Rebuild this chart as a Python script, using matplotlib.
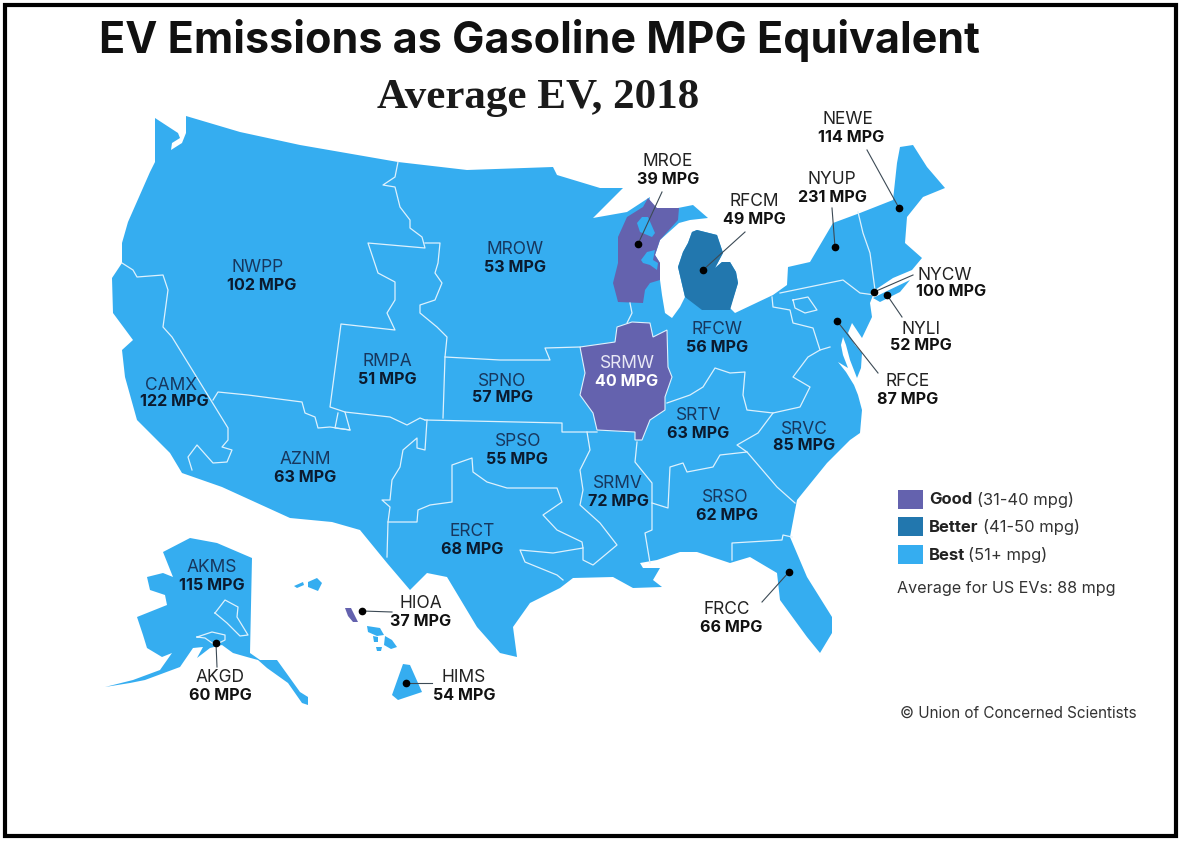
import matplotlib
matplotlib.use("Agg")
import matplotlib.pyplot as plt
from matplotlib.patches import Polygon, Rectangle

regions = ["NEWE", "NYUP", "MROE", "RFCM", "NYCW", "NYLI", "RFCE", "RFCW", "SRMW", "MROW", "NWPP", "RMPA", "SPNO",
           "CAMX", "AZNM", "SPSO", "SRTV", "SRVC", "SRMV", "SRSO", "ERCT", "FRCC", "HIOA", "AKMS", "AKGD", "HIMS"]
mpg = [114, 231, 39, 49, 100, 52, 87, 56, 40, 53, 102, 51, 57,
       122, 63, 55, 63, 85, 72, 62, 68, 66, 37, 115, 60, 54]

legend_names = ["Good", "Better", "Best"]
legend_ranges = ["(31-40 mpg)", "(41-50 mpg)", "(51+ mpg)"]
us_average = 88

GOOD = "#6462AE"
BETTER = "#2277AE"
BEST = "#35ADF0"
legend_colors = [GOOD, BETTER, BEST]

# label centres in picture pixels: name x, name y, value x, value y
label_pos = {
    "NEWE": (848, 120, 851, 138), "NYUP": (832, 180, 832, 198), "MROE": (668, 161, 668, 179),
    "RFCM": (754, 201, 754, 219), "NYCW": (945, 275, 951, 291), "NYLI": (921, 329, 921, 346),
    "RFCE": (908, 382, 908, 400), "RFCW": (717, 329, 717, 347), "SRMW": (627, 364, 627, 382),
    "MROW": (515, 249, 515, 267), "NWPP": (258, 268, 262, 286), "RMPA": (387, 361, 387, 379),
    "SPNO": (502, 381, 502, 398), "CAMX": (171, 385, 174, 402), "AZNM": (305, 460, 305, 478),
    "SPSO": (518, 442, 517, 459), "SRTV": (699, 416, 698, 433), "SRVC": (804, 429, 804, 446),
    "SRMV": (618, 484, 618, 501), "SRSO": (725, 498, 727, 515), "ERCT": (472, 532, 472, 550),
    "FRCC": (727, 609, 731, 627), "HIOA": (421, 604, 421, 622), "AKMS": (212, 567, 212, 585),
    "AKGD": (220, 678, 220, 695), "HIMS": (464, 677, 464, 695),
}

# dot, then the far end of the leader line
leaders = {
    "MROE": ((638, 244), (662, 192)), "RFCM": ((703, 270), (745, 232)), "NYUP": ((835, 247), (832, 208)),
    "NEWE": ((899, 208), (867, 150)), "NYCW": ((874, 292), (913, 275)), "NYLI": ((887, 295), (902, 317)),
    "RFCE": ((837, 321), (878, 373)), "FRCC": ((789, 572), (762, 602)), "HIOA": ((362, 611), (392, 612)),
    "AKGD": ((216, 643), (217, 667)), "HIMS": ((406, 683), (432, 683)),
}

# map outlines
mainland = [(155, 118), (178, 133), (180, 138), (172, 143), (171, 150), (182, 143), (186, 133), (186, 116), (240, 132),
            (300, 145), (398, 162), (467, 170), (553, 167), (557, 175), (600, 188), (623, 188), (593, 218), (627, 212),
            (650, 197), (648, 208), (678, 208), (693, 205), (708, 218), (690, 220), (679, 223), (660, 240), (655, 255),
            (660, 263), (660, 280), (662, 295), (665, 313), (672, 318), (680, 307), (685, 297), (678, 267), (683, 252),
            (688, 243), (692, 232), (697, 230), (717, 235), (723, 253), (715, 268), (722, 262), (730, 262), (736, 272),
            (738, 283), (730, 308), (735, 313), (773, 295), (787, 285), (788, 267), (810, 262), (823, 240), (833, 223),
            (860, 213), (893, 200), (897, 163), (900, 147), (913, 145), (927, 167), (945, 188), (923, 197), (907, 217),
            (905, 243), (922, 258), (912, 270), (893, 278), (875, 290), (870, 303), (872, 317), (862, 338), (852, 323),
            (848, 333), (855, 345), (862, 353), (861, 368), (857, 378), (850, 360), (846, 345), (843, 337), (841, 345),
            (843, 355), (848, 368), (838, 362), (846, 372), (854, 385), (858, 395), (862, 410), (860, 433), (850, 440),
            (827, 463), (797, 500), (790, 537), (807, 577), (832, 617), (832, 633), (820, 653), (807, 637), (780, 600),
            (777, 573), (750, 557), (730, 563), (697, 552), (680, 552), (657, 560), (640, 563), (643, 568), (660, 568),
            (653, 580), (662, 587), (633, 588), (613, 577), (573, 578), (560, 588), (530, 603), (513, 627), (517, 657),
            (500, 653), (477, 627), (447, 577), (427, 573), (410, 590), (387, 563), (360, 530), (332, 522), (290, 518),
            (222, 487), (182, 473), (170, 453), (137, 420), (125, 377), (122, 350), (133, 340), (113, 313), (112, 278),
            (122, 263), (122, 243), (128, 222), (150, 172), (155, 162)]
long_island = [(873, 298), (885, 292), (910, 280), (900, 292), (880, 302)]
wisconsin = [(627, 217), (618, 237), (618, 263), (613, 283), (618, 302), (643, 303), (645, 290), (650, 283), (660, 280),
             (660, 263), (655, 255), (660, 240), (678, 220), (679, 208), (657, 208), (648, 198), (643, 207)]
green_bay = [(637, 223), (642, 217), (648, 217), (655, 233), (652, 237), (640, 232)]
door_bay = [(641, 260), (647, 252), (655, 250), (653, 260), (658, 263), (657, 270), (650, 265), (643, 263)]
illinois = [(580, 347), (615, 342), (617, 327), (632, 322), (650, 323), (653, 337), (667, 330), (668, 367), (672, 377),
            (665, 397), (665, 410), (650, 420), (642, 440), (635, 440), (635, 432), (597, 430), (593, 413), (580, 395),
            (585, 373)]
michigan = [(685, 297), (678, 267), (683, 252), (688, 243), (692, 232), (697, 230), (717, 235), (723, 253), (715, 268),
            (722, 262), (730, 262), (736, 272), (738, 283), (730, 310), (702, 310)]
alaska = [(163, 552), (190, 538), (217, 543), (252, 558), (250, 653), (260, 660), (277, 660), (300, 692), (308, 697),
          (308, 705), (302, 703), (288, 683), (267, 668), (258, 660), (247, 657), (233, 653), (222, 645), (210, 648),
          (197, 658), (203, 647), (193, 648), (180, 667), (145, 680), (130, 683), (105, 687), (133, 680), (160, 670),
          (172, 653), (162, 657), (147, 648), (143, 635), (137, 617), (167, 605), (165, 595), (150, 590), (147, 577),
          (163, 573), (173, 577)]
hi_islands = [[(294, 586), (303, 582), (304, 585), (297, 588)],
              [(308, 582), (317, 578), (322, 583), (318, 591), (308, 587)],
              [(367, 626), (380, 628), (384, 635), (377, 636), (368, 632)],
              [(373, 636), (378, 637), (378, 642), (374, 642)],
              [(385, 636), (392, 640), (397, 647), (391, 649), (384, 645)],
              [(376, 647), (382, 647), (381, 651), (377, 651)]]
hioa_island = [(345, 608), (351, 608), (358, 622), (353, 622), (348, 616)]
hims_island = [(403, 664), (410, 665), (422, 692), (398, 700), (392, 695)]

# white boundaries between regions
borders = [
    [(398, 162), (395, 177), (383, 185), (395, 187), (400, 207), (410, 220), (410, 228), (422, 237), (425, 248), (368, 243),
     (378, 273), (395, 282), (395, 300), (387, 313), (395, 330), (341, 324), (330, 407), (345, 412), (350, 430), (335, 428),
     (338, 413)],
    [(425, 243), (440, 243), (438, 263), (435, 273), (442, 283), (435, 300), (420, 305), (420, 313), (437, 327), (447, 337),
     (445, 357), (443, 418)],
    [(445, 357), (500, 360), (550, 360), (545, 348), (580, 347)],
    [(425, 420), (562, 423), (562, 432), (597, 432)],
    [(345, 412), (390, 417), (407, 425), (420, 418), (425, 420)],
    [(427, 420), (425, 450), (417, 448), (417, 438), (403, 450), (400, 467), (392, 480), (390, 500), (382, 500), (390, 507),
     (388, 522), (387, 557)],
    [(388, 522), (417, 522), (418, 510), (430, 505), (452, 502), (452, 465), (472, 458), (473, 472), (487, 482), (507, 488),
     (557, 488), (562, 502), (543, 515), (557, 530), (582, 542), (583, 548), (553, 553), (520, 550), (525, 562), (557, 575),
     (563, 580)],
    [(587, 432), (590, 450), (580, 470), (583, 490), (580, 505), (600, 523), (617, 545), (593, 565), (583, 560), (583, 548)],
    [(637, 442), (635, 462), (652, 483), (652, 530), (645, 533), (650, 563)],
    [(652, 503), (668, 508), (670, 467), (683, 463), (687, 472), (713, 467), (720, 455), (747, 452), (737, 445), (758, 433),
     (773, 413)],
    [(747, 452), (777, 487), (795, 503)],
    [(732, 560), (732, 543), (782, 540), (783, 535), (792, 537)],
    [(667, 403), (690, 395), (703, 387), (715, 368), (730, 373), (745, 372), (743, 395), (747, 410), (773, 413), (800, 407),
     (810, 387), (793, 377), (808, 357), (820, 350), (830, 347)],
    [(772, 297), (773, 307), (790, 310), (793, 323), (813, 328), (820, 350)],
    [(793, 300), (808, 297), (817, 310), (805, 313), (795, 308), (793, 300)],
    [(780, 293), (843, 280), (860, 293), (875, 295)],
    [(858, 212), (863, 233), (870, 253), (875, 290)],
    [(630, 303), (632, 313), (627, 323)],
    [(122, 263), (133, 270), (137, 277), (163, 275), (168, 290), (163, 327), (172, 337), (228, 428), (228, 440), (222, 447),
     (232, 450), (227, 462), (213, 463), (197, 445), (188, 457), (192, 470)],
    [(213, 400), (218, 392), (248, 395), (302, 402), (305, 413), (315, 417), (318, 428), (330, 427), (350, 430)],
    [(215, 613), (225, 600), (238, 607), (237, 617), (248, 635), (240, 636), (227, 623), (215, 613)],
    [(197, 637), (212, 632), (225, 635), (225, 640), (215, 645), (205, 638), (197, 637)],
]

plt.rcParams["font.family"] = ["Inter", "DejaVu Sans"]

fig = plt.figure(figsize=(11.84, 8.42), dpi=100)
ax = fig.add_axes([0, 0, 1, 1])
ax.set_xlim(0, 1184)
ax.set_ylim(842, 0)
ax.axis("off")

ax.add_patch(Rectangle((5, 5), 1171, 831, fill=False, ec="black", lw=3))


def color_for(value):
    if value <= 40:
        return GOOD
    if value <= 50:
        return BETTER
    return BEST


value_of = dict(zip(regions, mpg))

ax.add_patch(Polygon(mainland, fc=BEST, ec="none"))
ax.add_patch(Polygon(long_island, fc=BEST, ec="none"))
ax.add_patch(Polygon(wisconsin, fc=color_for(value_of["MROE"]), ec="none"))
ax.add_patch(Polygon(green_bay, fc=BEST, ec="none"))
ax.add_patch(Polygon(door_bay, fc=BEST, ec="none"))
ax.add_patch(Polygon(illinois, fc=color_for(value_of["SRMW"]), ec="#DDF1FD", lw=0.8))
ax.add_patch(Polygon(michigan, fc=color_for(value_of["RFCM"]), ec="none"))
ax.add_patch(Polygon(alaska, fc=BEST, ec="none"))
for isl in hi_islands:
    ax.add_patch(Polygon(isl, fc=BEST, ec="none"))
ax.add_patch(Polygon(hioa_island, fc=color_for(value_of["HIOA"]), ec="none"))
ax.add_patch(Polygon(hims_island, fc=color_for(value_of["HIMS"]), ec="none"))

for line in borders:
    ax.plot([p[0] for p in line], [p[1] for p in line], color="#DDF1FD", lw=0.9, solid_joinstyle="round")

for name, (dot, end) in leaders.items():
    ax.plot([dot[0], end[0]], [dot[1], end[1]], color="#3c4a55", lw=0.8)
    ax.plot(dot[0], dot[1], "o", color="black", ms=4.5)

inside = ["RFCW", "MROW", "NWPP", "RMPA", "SPNO", "CAMX", "AZNM", "SPSO", "SRTV", "SRVC", "SRMV", "SRSO", "ERCT", "AKMS"]
for name, val in zip(regions, mpg):
    nx, ny, vx, vy = label_pos[name]
    name_col = "#222222"
    val_col = "#111111"
    if name in inside:
        name_col = "#17375e"
        val_col = "#0b1a2e"
    if name == "SRMW":
        name_col = "#e8e8f5"
        val_col = "white"
    ax.text(nx, ny, name, ha="center", va="center", fontsize=12.5, color=name_col)
    ax.text(vx, vy, str(val) + " MPG", ha="center", va="center", fontsize=11.6, fontweight="bold", color=val_col)

ax.text(539, 40, "EV Emissions as Gasoline MPG Equivalent", ha="center", va="center", fontsize=31,
        fontweight="bold", color="#111111")
ax.text(538, 98, "Average EV, 2018", ha="center", va="center", fontsize=31, fontweight="bold",
        color="#1a1a1a", family="Liberation Serif")

swatch_tops = [490, 517, 545]
range_x = [977, 983, 968]
for i in range(3):
    top = swatch_tops[i]
    ax.add_patch(Rectangle((898, top), 25, 18.5, fc=legend_colors[i], ec="none"))
    ax.text(929, top + 10, legend_names[i], ha="left", va="center", fontsize=12, fontweight="bold", color="#222222")
    ax.text(range_x[i], top + 10, legend_ranges[i], ha="left", va="center", fontsize=11.9, color="#333333")

ax.text(897, 589, "Average for US EVs: " + str(us_average) + " mpg", ha="left", va="center", fontsize=11.6, color="#333333")
ax.text(900, 713, "\u00a9 Union of Concerned Scientists", ha="left", va="center", fontsize=11, color="#333333")

fig.savefig("out.png", dpi=100)
